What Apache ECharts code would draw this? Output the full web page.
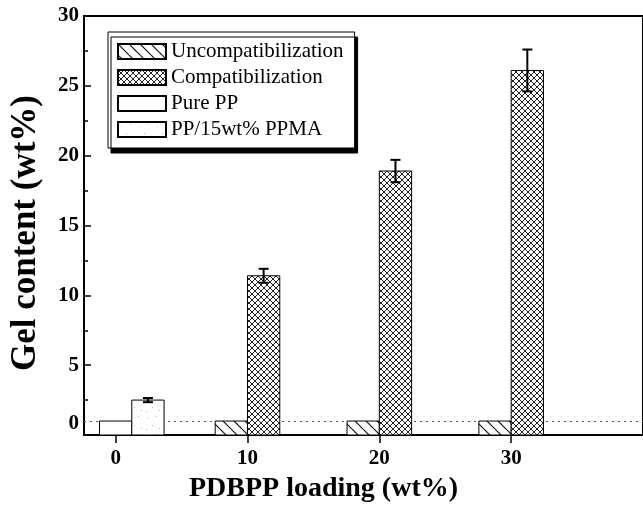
<!DOCTYPE html>
<html>
<head>
<meta charset="utf-8">
<script src="https://cdn.jsdelivr.net/npm/echarts@6/dist/echarts.min.js"></script>
<style>
  html, body { margin: 0; padding: 0; background: #fff; }
  #chart { width: 643px; height: 508px; }
</style>
</head>
<body>
<div id="chart"></div>
<script>
// data
const loadings = [0, 10, 20, 30];
const filledLoadings = [10, 20, 30];
const uncompatValues = [1.0, 1.0, 1.0];
const compatValues = [11.4, 18.9, 26.1];
const compatErrors = [0.5, 0.8, 1.5];
const purePPValue = [1.0];
const ppmaValue = [2.5];
const ppmaError = [0.15];
const seriesNames = ["Uncompatibilization", "Compatibilization", "Pure PP", "PP/15wt% PPMA"];

const FONT = "Liberation Serif";
const BAR_W = 2.45; // bar width in x-axis units

function makePattern(size, draw) {
    let c = document.createElement("canvas");
    c.width = size;
    c.height = size;
    let ctx = c.getContext("2d");
    ctx.fillStyle = "#fff";
    ctx.fillRect(0, 0, size, size);
    draw(ctx, size);
    return { image: c, repeat: "repeat" };
}

const hatch = makePattern(11, (ctx, s) => {
    ctx.strokeStyle = "#111";
    ctx.lineWidth = 1.2;
    for (let k of [-s, 0, s]) {
        ctx.beginPath();
        ctx.moveTo(k, 0);
        ctx.lineTo(k + s, s);
        ctx.stroke();
    }
});

const crossHatch = makePattern(6, (ctx, s) => {
    ctx.strokeStyle = "#222";
    ctx.lineWidth = 1;
    for (let k of [-s, 0, s]) {
        ctx.beginPath();
        ctx.moveTo(k, 0);
        ctx.lineTo(k + s, s);
        ctx.moveTo(k + s, 0);
        ctx.lineTo(k, s);
        ctx.stroke();
    }
});

const speckle = makePattern(18, (ctx, s) => {
    ctx.fillStyle = "#bbb";
    [[3, 4], [12, 2], [8, 11], [15, 14], [2, 15]].forEach((p) => ctx.fillRect(p[0], p[1], 1, 1));
});

function barRenderer(offset, withError) {
    return function (params, api) {
        let x = api.value(0);
        let y = api.value(1);
        let base = api.coord([x, 0]);
        let top = api.coord([x, y]);
        let w = api.size([BAR_W, 0])[0];
        let x0 = base[0] + offset * w;
        let children = [{
            type: "rect",
            shape: { x: x0, y: top[1], width: w, height: base[1] - top[1] },
            style: api.style(),
        }];
        if (withError) {
            let e = api.value(2);
            let hi = api.coord([x, y + e])[1];
            let lo = api.coord([x, y - e])[1];
            let cx = x0 + w / 2;
            let errStyle = { stroke: "#000", lineWidth: 2 };
            children.push(
                { type: "line", shape: { x1: cx, y1: hi, x2: cx, y2: lo }, style: errStyle },
                { type: "line", shape: { x1: cx - 5, y1: hi, x2: cx + 5, y2: hi }, style: errStyle },
                { type: "line", shape: { x1: cx - 5, y1: lo, x2: cx + 5, y2: lo }, style: errStyle }
            );
        }
        return { type: "group", children };
    };
}

const barStyle = (fill) => ({ color: fill, borderColor: "#000", borderWidth: 1 });

let chart = echarts.init(document.getElementById("chart"));

let option = {
    backgroundColor: "#fff",
    animation: false,
    grid: {
        left: 84,
        top: 16,
        bottom: 73,
        right: -36,
        show: true,
        borderColor: "#000",
        borderWidth: 2,
    },
    legend: {
        orient: "vertical",
        left: 108,
        top: 32,
        data: seriesNames,
        icon: "rect",
        itemWidth: 48,
        itemHeight: 15,
        itemGap: 5,
        itemTextGap: 9,
        padding: [9, 11, 8, 9],
        backgroundColor: "#fff",
        borderColor: "#000",
        borderWidth: 1,
        shadowColor: "#000",
        shadowBlur: 0,
        shadowOffsetX: 3,
        shadowOffsetY: 5,
        textStyle: { fontFamily: FONT, fontSize: 21, color: "#000" },
    },
    xAxis: {
        type: "value",
        min: -2.4,
        max: 40,
        name: "PDBPP loading (wt%)",
        nameLocation: "middle",
        nameGap: 40,
        nameTextStyle: {
            fontFamily: FONT, fontWeight: "bold", fontSize: 28, color: "#000",
            padding: [0, 80, 0, 0],
        },
        axisLine: { lineStyle: { color: "#000", width: 2 } },
        axisTick: { customValues: loadings, length: 8, lineStyle: { color: "#000", width: 1.5 } },
        axisLabel: {
            customValues: loadings, margin: 13,
            fontFamily: FONT, fontWeight: "bold", fontSize: 21, color: "#000",
        },
        splitLine: { show: false },
    },
    yAxis: {
        type: "value",
        min: 0,
        max: 30,
        interval: 5,
        name: "Gel content (wt%)",
        nameLocation: "middle",
        nameGap: 41,
        nameTextStyle: {
            fontFamily: FONT, fontWeight: "bold", fontSize: 35, color: "#000",
            padding: [0, 15, 0, 0],
        },
        axisLine: { show: true, onZero: false, lineStyle: { color: "#000", width: 2 } },
        axisTick: { inside: true, length: 7, lineStyle: { color: "#000", width: 1.5 } },
        minorTick: { show: true, splitNumber: 2, length: 4, lineStyle: { color: "#000", width: 1.5 } },
        axisLabel: {
            margin: 5,
            fontFamily: FONT, fontWeight: "bold", fontSize: 21, color: "#000",
            formatter: (v) => (v === 0 ? "{zero|0}" : String(v)),
            rich: {
                zero: { fontFamily: FONT, fontWeight: "bold", fontSize: 21, color: "#000", padding: [0, 0, 22, 0] },
            },
        },
        splitLine: { show: false },
    },
    series: [
        {
            name: seriesNames[0],
            type: "custom",
            z: 3,
            itemStyle: barStyle(hatch),
            renderItem: barRenderer(-1, false),
            data: filledLoadings.map((x, i) => [x, uncompatValues[i]]),
        },
        {
            name: seriesNames[1],
            type: "custom",
            z: 3,
            itemStyle: barStyle(crossHatch),
            renderItem: barRenderer(0, true),
            data: filledLoadings.map((x, i) => [x, compatValues[i], compatErrors[i]]),
        },
        {
            name: seriesNames[2],
            type: "custom",
            z: 3,
            itemStyle: barStyle("#fff"),
            renderItem: barRenderer(-0.5, false),
            data: [[loadings[0], purePPValue[0]]],
            markLine: {
                silent: true,
                symbol: "none",
                z: 1,
                label: { show: false },
                lineStyle: { color: "#555", type: [2, 4], width: 1 },
                data: [{ yAxis: purePPValue[0] }],
            },
        },
        {
            name: seriesNames[3],
            type: "custom",
            z: 3,
            itemStyle: barStyle(speckle),
            renderItem: barRenderer(0.5, true),
            data: [[loadings[0], ppmaValue[0], ppmaError[0]]],
        },
    ],
};

option && chart.setOption(option);
</script>
</body>
</html>
